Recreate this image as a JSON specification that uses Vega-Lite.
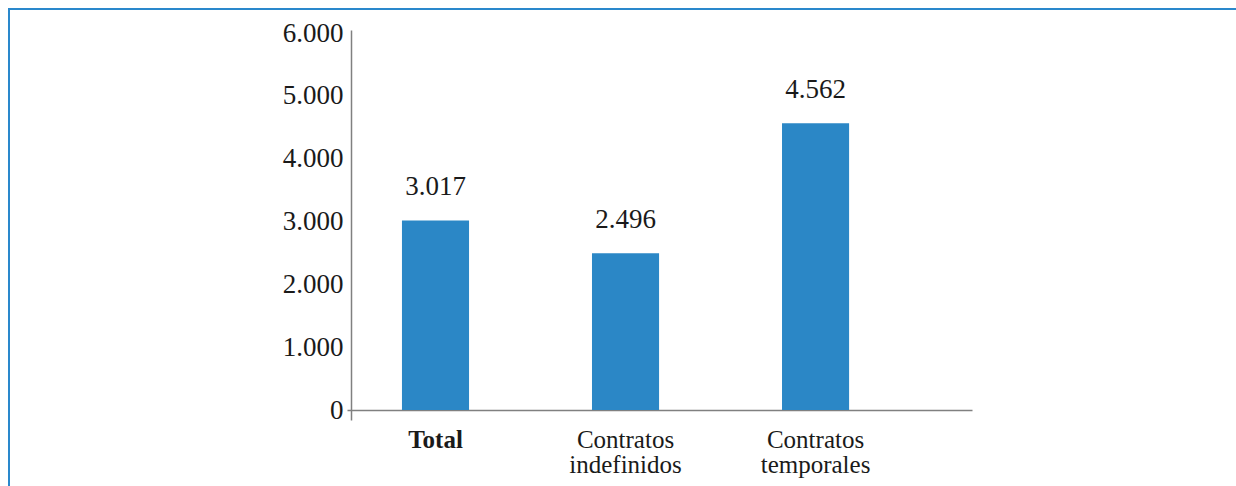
{
  "$schema": "https://vega.github.io/schema/vega-lite/v6.json",
  "width": 1300,
  "height": 520,
  "autosize": {"type": "none"},
  "padding": {"left": 9, "top": 9, "right": 0, "bottom": 0},
  "background": "white",
  "config": {
    "view": {"stroke": "#2a88cc", "strokeWidth": 2},
    "font": "Liberation Serif",
    "text": {"font": "Liberation Serif"},
    "axis": {"labelFont": "Liberation Serif"},
    "locale": {"number": {"decimal": ",", "thousands": ".", "grouping": [3], "currency": ["", " €"]}}
  },
  "data": {
    "values": [
      {"categoria": "Total", "valor": 3017},
      {"categoria": "Contratos indefinidos", "valor": 2496},
      {"categoria": "Contratos temporales", "valor": 4562}
    ]
  },
  "encoding": {
    "x": {
      "field": "categoria",
      "type": "nominal",
      "sort": null,
      "scale": {"range": [338, 963], "paddingInner": 0.647, "paddingOuter": 0.468, "align": 0.309},
      "axis": {
        "orient": "bottom",
        "offset": -119,
        "title": null,
        "domain": true,
        "domainColor": "#808080",
        "domainWidth": 1.5,
        "ticks": false,
        "grid": false,
        "labelAngle": 0,
        "labelPadding": 37,
        "labelFont": "Liberation Serif",
        "labelFontSize": 25,
        "labelLineHeight": 25.5,
        "labelBaseline": "alphabetic",
        "labelColor": "#1a1a1a",
        "labelExpr": "datum.value == 'Total' ? 'Total' : split(datum.value, ' ')",
        "labelFontWeight": {"condition": {"test": "datum.value == 'Total'", "value": "bold"}, "value": "normal"}
      }
    },
    "y": {
      "field": "valor",
      "type": "quantitative",
      "scale": {"domain": [-159, 6048], "range": [411, 21], "nice": false, "zero": false},
      "axis": {
        "orient": "left",
        "offset": -342,
        "title": null,
        "values": [0, 1000, 2000, 3000, 4000, 5000, 6000],
        "format": ",d",
        "domain": true,
        "domainColor": "#808080",
        "domainWidth": 1.5,
        "ticks": false,
        "grid": false,
        "labelPadding": 8,
        "labelFont": "Liberation Serif",
        "labelFontSize": 27,
        "labelColor": "#1a1a1a"
      }
    }
  },
  "layer": [
    {"mark": {"type": "bar", "color": "#2b87c6"}, "encoding": {"y2": {"datum": 0}}},
    {
      "mark": {"type": "text", "baseline": "alphabetic", "dy": -25, "font": "Liberation Serif", "fontSize": 27, "color": "#1a1a1a"},
      "encoding": {"text": {"field": "valor", "type": "quantitative", "format": ",d"}}
    }
  ]
}
